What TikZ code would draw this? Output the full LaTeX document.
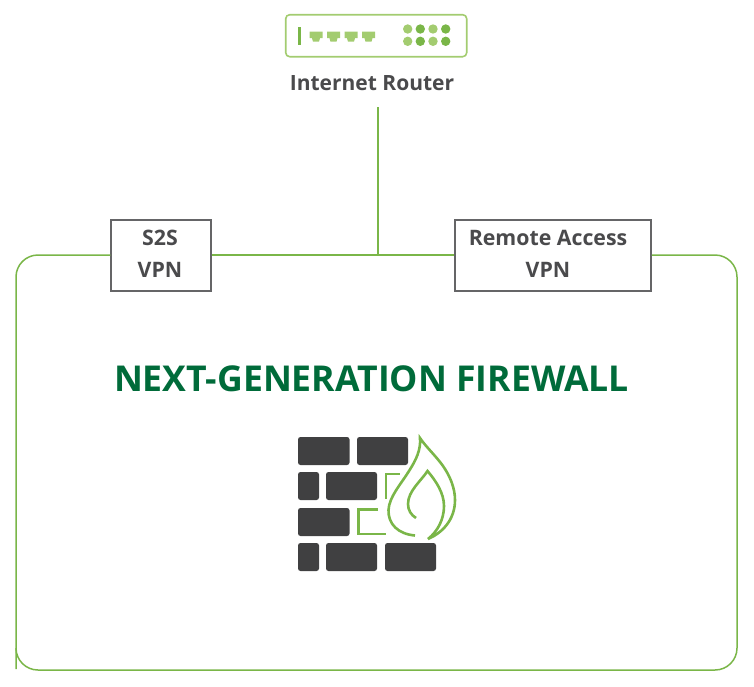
\documentclass[tikz,border=0pt]{standalone}
\usepackage{fontspec}
\setmainfont{Open Sans}
\definecolor{linegreen}{HTML}{7AB648}
\definecolor{dotlight}{HTML}{A3CC70}
\definecolor{titlegreen}{HTML}{006B3A}
\definecolor{brickgrey}{HTML}{404041}
\definecolor{textgrey}{HTML}{4A4A4C}
\newcommand{\dropline}{\rule[-4pt]{0pt}{4pt}}
\tikzset{
  vpnbox/.style={draw=textgrey!85,line width=1.5pt,fill=white,minimum height=71pt,inner sep=0pt,
    align=center,text=textgrey,font=\fontsize{21.3}{32}\selectfont\bfseries},
  wire/.style={linegreen,line width=1.5pt},
  brick/.style={fill=brickgrey,rounded corners=2.5pt},
  port/.style={fill=dotlight},
  flame/.style={linegreen,line width=2.6pt}
}
\begin{document}
\begin{tikzpicture}[x=1pt,y=-1pt]
    \useasboundingbox (0,0) rectangle (754,686);

    \node[draw=dotlight,line width=1.6pt,rounded corners=4pt,minimum width=181pt,minimum height=42pt,inner sep=0pt] at (376.2,35.7) (router) {};
    \node[text=textgrey,font=\fontsize{21}{25}\selectfont\bfseries,inner sep=0pt] at (372,83) (routerlabel) {Internet Router};

    \node[vpnbox,minimum width=100pt] at (161,255.5) (s2s) {S2S\hspace*{2pt}\\VPN\hspace*{2pt}\dropline};
    \node[vpnbox,minimum width=196pt] at (553,255.5) (remote) {Remote Access\hspace*{10pt}\\VPN\hspace*{10pt}\dropline};

    \coordinate (drop) at (378,107);
    \coordinate (bus) at (378,255);
    \coordinate (leftend) at (16,669);

    \node[text=titlegreen,font=\fontsize{35.6}{44}\selectfont\bfseries,inner sep=0pt] at (371.5,379) (title) {NEXT-GENERATION FIREWALL};

    % outline and uplink
    \draw[wire] (s2s.west |- bus) -- (38,255) arc[start angle=270,end angle=180,radius=22] -- (leftend);
    \draw[wire] (s2s.east |- bus) -- (remote.west |- bus);
    \draw[wire] (remote.east |- bus) -- (715,255) arc[start angle=270,end angle=360,radius=22]
        -- (737,648) arc[start angle=0,end angle=90,radius=22] -- (38,670)
        arc[start angle=90,end angle=180,radius=22];
    \draw[wire] (drop) -- (bus);

    % router icon
    \fill[linegreen] (298,27) rectangle (301,45);
    \foreach \x in {309.5,327,344.5,362} {
        \fill[port] (\x,31.7) -- ++(13,0) -- ++(0,6.5) -- ++(-2.5,0) -- ++(-1,3.5) -- ++(-6,0) -- ++(-1,-3.5) -- ++(-2.5,0) -- cycle;
    }
    \foreach \y in {29,41.3} {
        \fill[dotlight] (407.7,\y) circle (4.7);
        \fill[linegreen] (420.3,\y) circle (4.7);
        \fill[dotlight] (433,\y) circle (4.7);
        \fill[linegreen] (445.7,\y) circle (4.7);
    }

    % wall
    \foreach \xa/\xb/\ya/\yb in {298/349.5/437/465, 357/408/437/465,
        298/319/472/500, 326/377/472/500,
        298/349.5/508/536,
        298/319/543/571, 326/377/543/571, 385/436/543/571} {
        \fill[brick] (\xa,\ya) rectangle (\xb,\yb);
    }
    \draw[flame] (399.5,474) -- (386,474) -- (386,499);
    \draw[flame] (378,509.7) -- (358.5,509.7) -- (358.5,534) -- (386,534);

    % flame
    \draw[flame,line join=miter,miter limit=6] (415,535.5) .. controls (398,534) and (388,524) .. (388.5,510)
        .. controls (389,497) and (401,484) .. (409,471)
        .. controls (416,460) and (421,450) .. (420,438)
        .. controls (426,447) and (436,456) .. (443,466)
        .. controls (450,476) and (455,488) .. (455,500)
        .. controls (455,520) and (442,533) .. (428,539)
        .. controls (438,531) and (444,519) .. (444,506)
        .. controls (444,493) and (436,481) .. (427.5,471)
        .. controls (421,481) and (408,491) .. (408,504)
        .. controls (408,510) and (411,515) .. (416,518);
\end{tikzpicture}
\end{document}
